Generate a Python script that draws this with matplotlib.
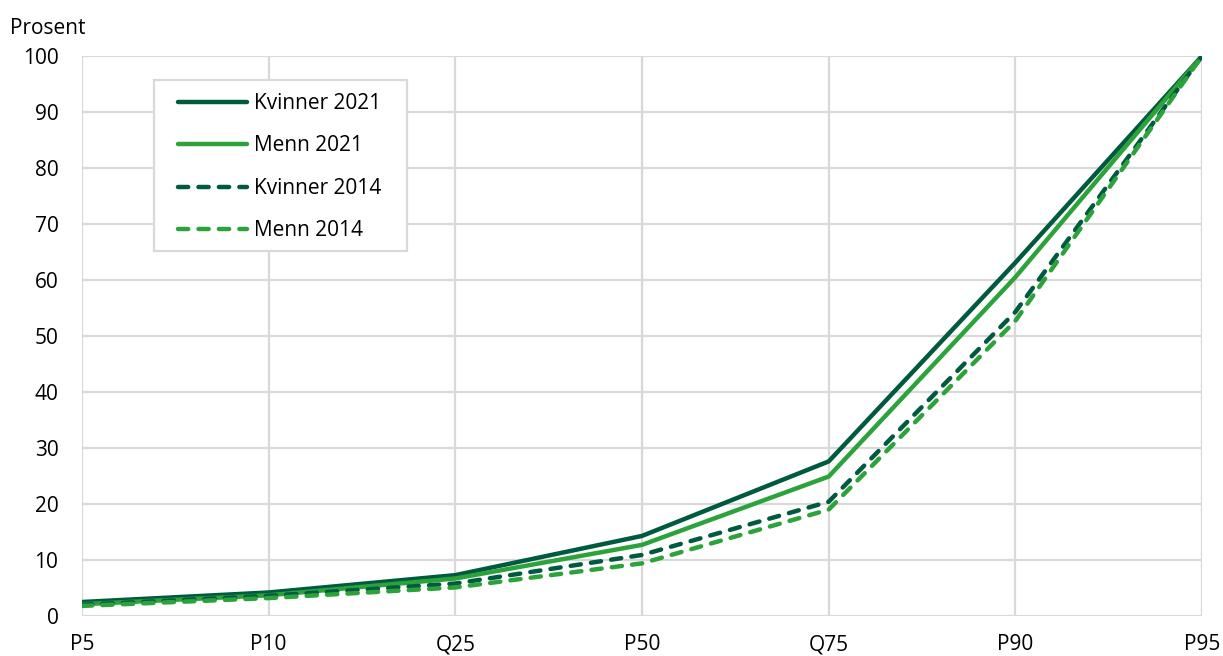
import matplotlib
matplotlib.use("Agg")
import matplotlib.pyplot as plt
from matplotlib.patches import Rectangle

plt.rcParams['font.family'] = ['Open Sans', 'DejaVu Sans']

# Percentiler og andel (prosent)
kategorier = ["P5", "P10", "Q25", "P50", "Q75", "P90", "P95"]
kvinner_2021 = [2.5, 4.2, 7.3, 14.3, 27.6, 63.1, 100]
menn_2021 = [2.1, 3.7, 6.7, 12.7, 24.9, 60.5, 100]
kvinner_2014 = [2.0, 3.6, 5.8, 10.9, 20.4, 54.3, 100]
menn_2014 = [1.8, 3.2, 5.1, 9.4, 19.0, 52.7, 100]

mork = "#005a3f"
lys = "#2ba33a"
grid_farge = "#d9d9d9"
fs = 15

fig = plt.figure(figsize=(12.23, 6.56), dpi=100)
ax = fig.add_axes([82 / 1223, 40 / 656, 1120 / 1223, 560 / 656])

x = range(len(kategorier))
lw = 3.2
strek = (0, (2.3, 2.3))
ax.plot(x, kvinner_2021, color=mork, lw=lw, label="Kvinner 2021", solid_capstyle="round")
ax.plot(x, menn_2021, color=lys, lw=lw, label="Menn 2021", solid_capstyle="round")
ax.plot(x, kvinner_2014, color=mork, lw=lw, ls=strek, label="Kvinner 2014",
        dash_capstyle="round")
ax.plot(x, menn_2014, color=lys, lw=lw, ls=strek, label="Menn 2014",
        dash_capstyle="round")

ax.set_xlim(0, len(kategorier) - 1)
ax.set_ylim(0, 100)
ax.set_xticks(list(x))
ax.set_xticklabels(kategorier)
ax.set_yticks(range(0, 101, 10))

ax.grid(True, color=grid_farge, lw=1.6)
ax.set_axisbelow(True)
for s in ax.spines.values():
    s.set_visible(False)
ax.tick_params(axis="both", length=0, labelsize=fs, colors="#000000")
ax.tick_params(axis="x", pad=13)
ax.tick_params(axis="y", pad=17)

fig.text(10 / 1223, 1 - 28 / 656, "Prosent", fontsize=fs, va="center", ha="left")

# egen ramme rundt forklaringen (mer luft til sidene enn over/under)
ramme = Rectangle((0.0643, 0.6518), 0.2259, 0.3052, transform=ax.transAxes,
                  facecolor="white", edgecolor=grid_farge, lw=1.6,
                  zorder=4.5, clip_on=False)
ax.add_patch(ramme)

leg = ax.legend(loc="upper left", bbox_to_anchor=(0.0857, 0.934), fontsize=fs,
                handlelength=3.3, labelspacing=1.03, borderpad=0,
                handletextpad=0.35, frameon=False, borderaxespad=0)

fig.savefig("out.png", dpi=100)
